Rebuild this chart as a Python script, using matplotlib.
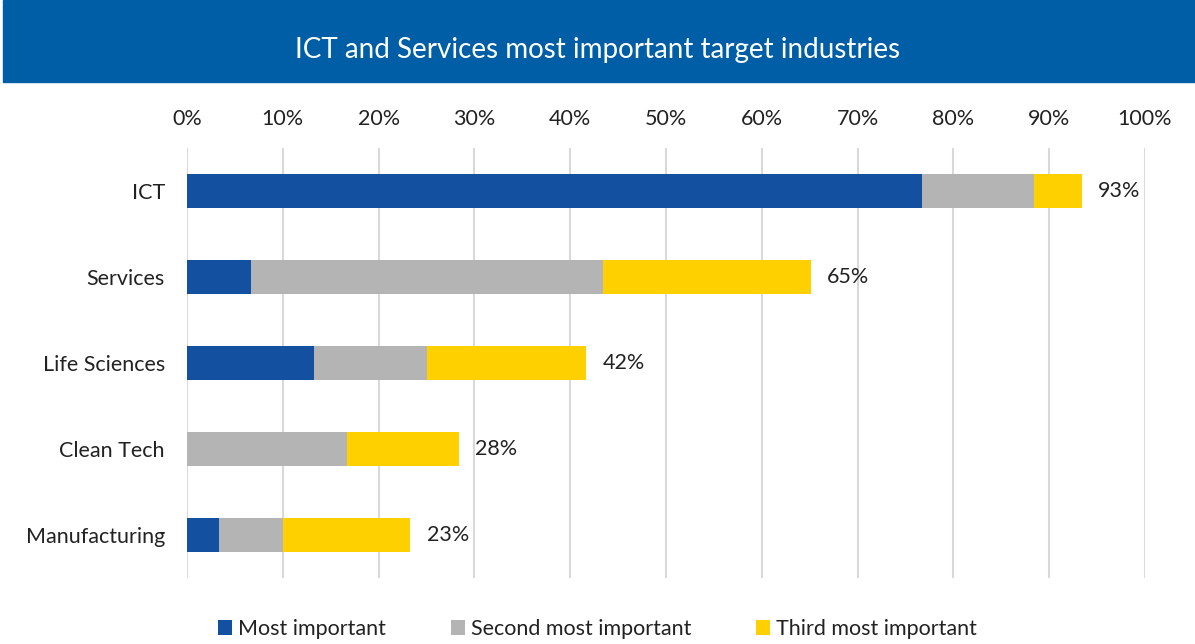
import matplotlib.pyplot as plt
from matplotlib.patches import Rectangle
from matplotlib.ticker import FuncFormatter

# share of respondents (%)
industries = ["ICT", "Services", "Life Sciences", "Clean Tech", "Manufacturing"]
most = [76.7, 6.7, 13.3, 0.0, 3.3]
second = [11.7, 36.7, 11.7, 16.7, 6.7]
third = [5.0, 21.7, 16.7, 11.7, 13.3]
series_names = ["Most important", "Second most important", "Third most important"]
colors = ["#1450A0", "#B4B4B4", "#FFD000"]

plt.rcParams["font.family"] = ["Lato", "DejaVu Sans"]

fig = plt.figure(figsize=(11.95, 6.44), dpi=100)

# title band
fig.patches.append(Rectangle((3 / 1195, 1 - 82 / 644), 1, 82 / 644,
                             transform=fig.transFigure, color="#005EA6", zorder=0))
fig.text(0.5, 1 - 50 / 644, "ICT and Services most important target industries",
         ha="center", va="center", color="white", fontsize=20)

ax = fig.add_axes([187 / 1195, 1 - 578 / 644, (1145 - 187) / 1195, (578 - 148) / 644])

y = range(len(industries))
left = [0.0] * len(industries)
for vals, name, c in zip([most, second, third], series_names, colors):
    ax.barh(y, vals, left=left, height=0.4, color=c, label=name, zorder=3)
    left = [l + v for l, v in zip(left, vals)]

for i, total in enumerate(left):
    ax.text(total + 1.7, i, f"{total:.0f}%", va="center", ha="left", fontsize=15.5, color="#222222")

ax.set_xlim(0, 100)
ax.set_ylim(4.5, -0.5)
ax.set_xticks(range(0, 101, 10))
ax.xaxis.set_major_formatter(FuncFormatter(lambda v, p: f"{v:.0f}%"))
ax.xaxis.tick_top()
ax.tick_params(axis="x", length=0, pad=14, labelsize=15.5, labelcolor="#222222")
ax.set_yticks(list(y))
ax.set_yticklabels(industries)
ax.tick_params(axis="y", length=0, pad=16, labelsize=15.5, labelcolor="#222222")
ax.grid(axis="x", color="#D9D9D9", linewidth=1.5, zorder=0)
for s in ax.spines.values():
    s.set_visible(False)

fig.legend(loc="center", bbox_to_anchor=(0.5, 1 - 629 / 644), ncol=3, frameon=False,
           fontsize=15.5, handlelength=0.65, handleheight=0.65, handletextpad=0.3,
           columnspacing=3.0, labelcolor="#222222")

fig.savefig("out.png", dpi=100)
